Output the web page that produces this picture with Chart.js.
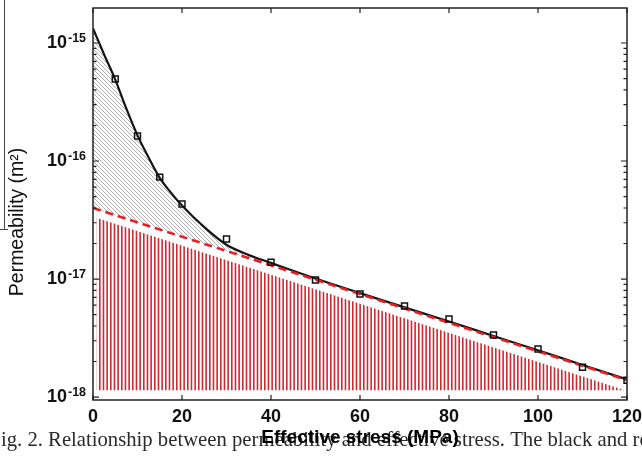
<!DOCTYPE html>
<html>
<head>
<script src="https://cdn.jsdelivr.net/npm/chart.js@4/dist/chart.umd.min.js"></script>
<style>body{margin:0;background:#fff}</style>
</head>
<body>
<div style="width:642px;height:456px">
  <canvas id="graph" width="642" height="456"></canvas>
</div>
<script>
// measured permeability (squares)
const stressPts = [5, 10, 15, 20, 30, 40, 50, 60, 70, 80, 90, 100, 110, 120];
const permPts = [4.95e-16, 1.63e-16, 7.3e-17, 4.33e-17, 2.18e-17, 1.39e-17, 9.8e-18, 7.46e-18, 5.9e-18, 4.58e-18, 3.35e-18, 2.55e-18, 1.79e-18, 1.39e-18];

// black fitted curve
const fitStress = [0, 2.5, 5, 7.5, 10, 12.5, 15, 17.5, 20, 25, 30, 35, 40, 50, 60, 70, 80, 90, 100, 110, 120];
const fitPerm = [1.33e-15, 8.0e-16, 4.9e-16, 2.78e-16, 1.65e-16, 1.07e-16, 7.2e-17, 5.4e-17, 4.2e-17, 2.75e-17, 1.95e-17, 1.6e-17, 1.37e-17, 1.01e-17, 7.6e-18, 5.75e-18, 4.37e-18, 3.29e-18, 2.49e-18, 1.87e-18, 1.41e-18];

// red dashed line
const dashStress = [0, 120];
const dashPerm = [4.0e-17, 1.39e-18];

// upper edge of the red hatched band, and its floor
const bandStress = [0.8, 119.5];
const bandPerm = [3.3e-17, 1.14e-18];
const bandFloor = 1.14e-18;

const xTicks = [0, 20, 40, 60, 80, 100, 120];
const yTickExps = [-18, -17, -16, -15];
const yMin = 9.44e-19, yMax = 1.98e-15;

const xTitle = 'Effective stress (MPa)';
const yTitle = 'Permeability (m\u00b2)';
const caption = 'ig. 2. Relationship between permeability and effective stress. The black and re';

const SANS = '"Liberation Sans", Arial, sans-serif';

const canvas = document.getElementById('graph');
const ctx = canvas.getContext('2d');

const pts = (xs, ys) => xs.map((x, i) => ({ x: x, y: ys[i] }));

// gray "\" hatching
const grayHatch = (() => {
  const c = document.createElement('canvas');
  c.width = 4; c.height = 4;
  const g = c.getContext('2d');
  g.strokeStyle = '#8c8c8c';
  g.lineWidth = 0.7;
  g.beginPath();
  g.moveTo(-1, -1); g.lineTo(5, 5);
  g.moveTo(-1, 3); g.lineTo(1, 5);
  g.moveTo(3, -1); g.lineTo(5, 1);
  g.stroke();
  return ctx.createPattern(c, 'repeat');
})();

// red vertical lines
const redHatch = (() => {
  const c = document.createElement('canvas');
  c.width = 11; c.height = 4;
  const g = c.getContext('2d');
  g.fillStyle = 'rgb(206,42,48)';
  [0, 3.67, 7.33].forEach(x => g.fillRect(x, 0, 1.6, 4));
  return ctx.createPattern(c, 'repeat');
})();

const decor = {
  id: 'decor',
  beforeDraw(chart) {
    const c = chart.ctx;
    c.save();
    c.fillStyle = '#fff';
    c.fillRect(0, 0, chart.width, chart.height);
    // bit of the neighbouring panel border
    c.strokeStyle = '#444';
    c.lineWidth = 1;
    c.beginPath();
    c.moveTo(4.5, 0); c.lineTo(4.5, 230);
    c.moveTo(0, 229.5); c.lineTo(8, 229.5);
    c.stroke();
    // caption behind the axis title
    c.font = '20.7px "Liberation Serif", "Times New Roman", serif';
    c.fillStyle = '#2a2a2a';
    c.textAlign = 'left';
    c.textBaseline = 'alphabetic';
    c.fillText(caption, 1, 446);
    c.restore();
  },
  afterDatasetsDraw(chart) {
    const c = chart.ctx, a = chart.chartArea;
    const xs = chart.scales.x, ys = chart.scales.y;
    c.save();
    c.strokeStyle = '#222';
    c.lineWidth = 1.5;
    c.strokeRect(a.left, a.top, a.right - a.left, a.bottom - a.top);
    c.lineWidth = 1.2;
    c.beginPath();
    xTicks.forEach(v => {
      const px = xs.getPixelForValue(v);
      c.moveTo(px, a.bottom); c.lineTo(px, a.bottom - 5);
      c.moveTo(px, a.top); c.lineTo(px, a.top + 5);
    });
    for (let e = -19; e <= -15; e++) {
      for (let k = 1; k <= 9; k++) {
        const v = k * Math.pow(10, e);
        if (v < yMin || v > yMax) continue;
        const py = ys.getPixelForValue(v);
        const len = k === 1 ? 6 : 3.5;
        c.moveTo(a.left, py); c.lineTo(a.left + len, py);
        c.moveTo(a.right, py); c.lineTo(a.right - len, py);
      }
    }
    c.stroke();
    c.restore();
  },
  afterDraw(chart) {
    const c = chart.ctx;
    const ys = chart.scales.y;
    c.save();
    c.fillStyle = '#111';
    c.font = 'bold 12.5px ' + SANS;
    c.textAlign = 'left';
    c.textBaseline = 'alphabetic';
    ys.ticks.forEach(t => {
      const py = ys.getPixelForValue(t.value);
      c.fillText(String(Math.round(Math.log10(t.value))), 68, py - 1);
    });
    c.translate(18, 222);
    c.rotate(-Math.PI / 2);
    c.font = '19.5px ' + SANS;
    c.textAlign = 'center';
    c.textBaseline = 'middle';
    c.fillText(yTitle, 0, 0);
    c.restore();
  }
};

new Chart(ctx, {
  type: 'line',
  plugins: [decor],
  data: {
    datasets: [
      {
        data: pts(stressPts, permPts),
        showLine: false,
        pointStyle: 'rect',
        pointRadius: 4.2,
        pointBorderWidth: 1.5,
        pointBorderColor: '#111',
        pointBackgroundColor: 'rgba(0,0,0,0)',
        order: 0
      },
      {
        data: pts(dashStress, dashPerm),
        borderColor: '#e81e22',
        borderWidth: 2.6,
        borderDash: [8, 5],
        pointRadius: 0,
        fill: false,
        order: 1
      },
      {
        data: pts(fitStress, fitPerm),
        borderColor: '#151515',
        borderWidth: 2.2,
        cubicInterpolationMode: 'monotone',
        pointRadius: 0,
        fill: { target: 1 },
        backgroundColor: grayHatch,
        order: 2
      },
      {
        data: pts(bandStress, bandPerm),
        borderWidth: 0,
        borderColor: 'rgba(0,0,0,0)',
        pointRadius: 0,
        fill: { value: bandFloor },
        backgroundColor: redHatch,
        order: 3
      }
    ]
  },
  options: {
    responsive: false,
    animation: false,
    devicePixelRatio: 1,
    layout: { autoPadding: false, padding: { top: 8, right: 15, left: 0, bottom: 0 } },
    plugins: {
      legend: { display: false },
      tooltip: { enabled: false }
    },
    scales: {
      x: {
        type: 'linear',
        min: 0,
        max: 120,
        grid: { display: false, drawTicks: false },
        border: { display: false },
        ticks: {
          stepSize: 20,
          maxRotation: 0,
          padding: 6,
          color: '#111',
          font: { family: SANS, size: 18, weight: 'bold' }
        },
        title: {
          display: true,
          text: xTitle,
          color: '#000',
          font: { family: SANS, size: 19, weight: 'bold' },
          padding: { top: 0, bottom: 7 }
        },
        afterFit(scale) {
          scale.height = 56;
          scale.paddingLeft = 0;
          scale.paddingRight = 0;
        }
      },
      y: {
        type: 'logarithmic',
        min: yMin,
        max: yMax,
        grid: { display: false, drawTicks: false },
        border: { display: false },
        afterBuildTicks(scale) {
          scale.ticks = yTickExps.map(e => ({ value: Math.pow(10, e), major: true }));
        },
        ticks: {
          padding: 26,
          color: '#111',
          font: { family: SANS, size: 18, weight: 'bold' },
          callback: () => '10'
        },
        afterFit(scale) {
          scale.width = 93;
          scale.paddingTop = 0;
          scale.paddingBottom = 0;
        }
      }
    }
  }
});
</script>
</body>
</html>
